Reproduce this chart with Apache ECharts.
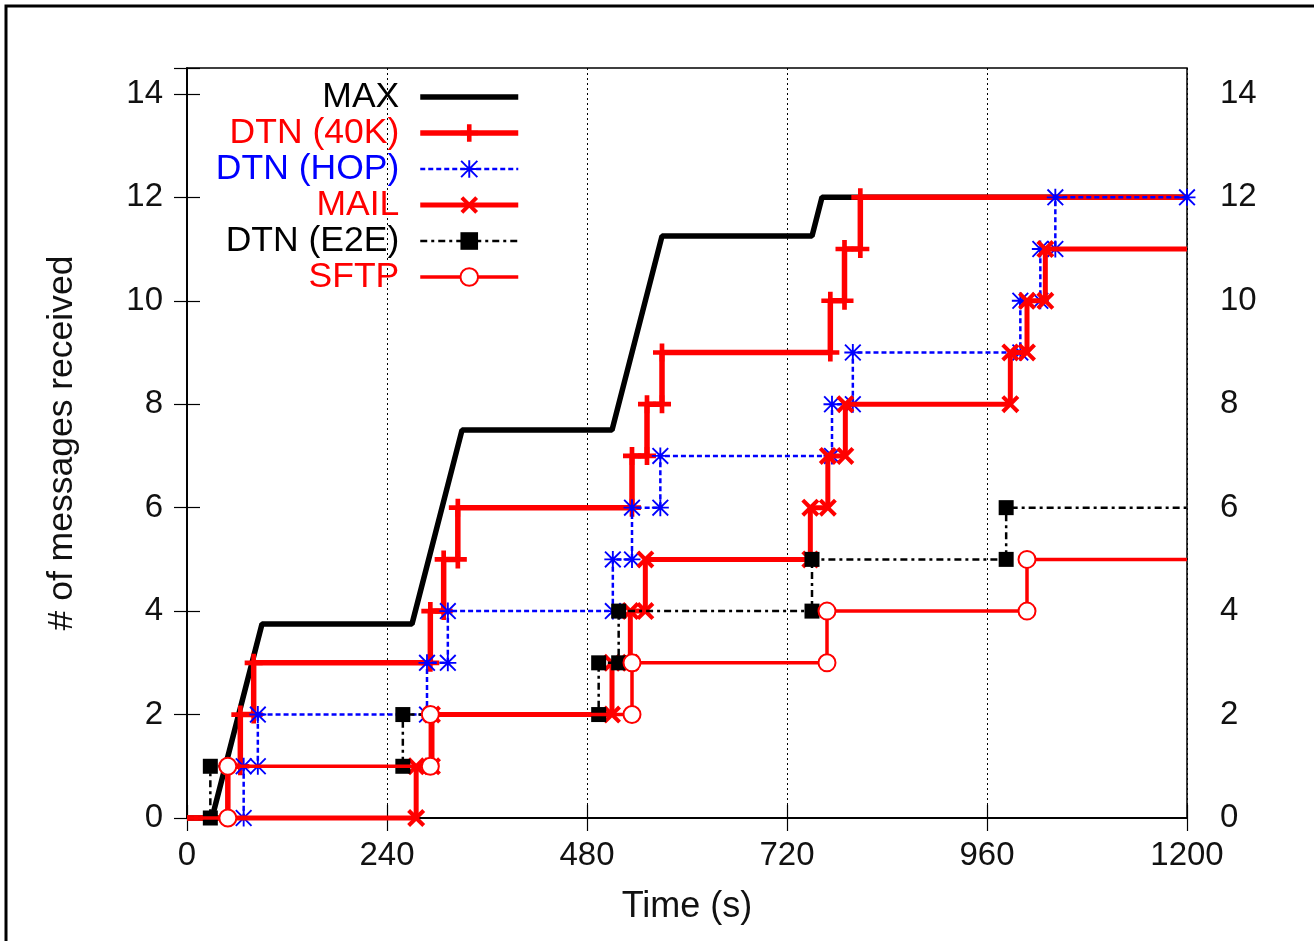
<!DOCTYPE html>
<html>
<head>
<meta charset="utf-8">
<script src="https://cdn.jsdelivr.net/npm/echarts@6/dist/echarts.min.js"></script>
<style>
  html, body { margin: 0; padding: 0; background: #fff; }
  #chart { width: 1314px; height: 941px; }
</style>
</head>
<body>
<div id="chart"></div>
<script>
// Axis ticks
const timeTicks = [0, 240, 480, 720, 960, 1200];
const countTicks = [0, 2, 4, 6, 8, 10, 12, 14];
const countTop = 14.5;

// Upper bound: every message delivered the moment it is generated
const maxTimes  = [0, 30, 90, 270, 330, 510, 570, 750, 762, 1200];
const maxCounts = [0, 0, 3.75, 3.75, 7.5, 7.5, 11.25, 11.25, 12, 12];

// Arrival time (s) of each delivered message, one list per transport
const dtn40kArrivals = [49, 64, 80, 292, 308, 325, 534, 552, 570, 772, 789, 808];
const dtnHopArrivals = [68, 85, 288, 313, 511, 534, 568, 774, 799, 1000, 1024, 1042];
const mailArrivals   = [275, 294, 510, 532, 550, 748, 769, 790, 988, 1008, 1030];
const dtnE2eArrivals = [28, 259, 494, 518, 750, 983];
const sftpArrivals   = [49, 292, 534, 768, 1008];

const FONT = "'Liberation Sans', Arial, sans-serif";
const RED = '#ff0000';
const BLUE = '#0000ff';
const BLACK = '#000000';

// gnuplot-like point shapes
const PLUS = 'path://M3.7,0H6.3V3.7H10V6.3H6.3V10H3.7V6.3H0V3.7H3.7Z';
const CROSS = 'path://M1.6,0L5,3.4L8.4,0L10,1.6L6.6,5L10,8.4L8.4,10L5,6.6L1.6,10L0,8.4L3.4,5L0,1.6Z';
const STAR = 'path://M0,4.45H10V5.55H0Z M4.45,0H5.55V10H4.45Z ' +
  'M0.78,0L5,4.22L9.22,0L10,0.78L5.78,5L10,9.22L9.22,10L5,5.78L0.78,10L0,9.22L4.22,5L0,0.78Z';

// Cumulative count as a staircase: each arrival adds a riser with a point at both ends
function staircase(arrivals, markEnd) {
  const end = timeTicks[timeTicks.length - 1];
  const pts = [{ value: [0, 0], symbol: 'none' }];
  arrivals.forEach(function (t, i) {
    pts.push([t, i]);
    pts.push([t, i + 1]);
  });
  const last = { value: [end, arrivals.length] };
  if (!markEnd) last.symbol = 'none';
  pts.push(last);
  return pts;
}

const maxData = maxTimes.map(function (t, i) { return [t, maxCounts[i]]; });

const chart = echarts.init(document.getElementById('chart'), null, { renderer: 'canvas' });

const axisText = { fontFamily: FONT, fontSize: 33, color: '#111' };
const hideOffTicks = function (v) { return countTicks.indexOf(v) >= 0 ? String(v) : ''; };
const plainNumber = function (v) { return String(v); };

chart.setOption({
  animation: false,
  backgroundColor: '#ffffff',
  graphic: [{
    type: 'rect',
    shape: { x: 6, y: 6, width: 1400, height: 1000 },
    style: { fill: 'none', stroke: '#000', lineWidth: 3 },
    silent: true,
    z: 100
  }],
  grid: {
    left: 187, right: 127, top: 68, bottom: 123,
    show: true, borderColor: '#000', borderWidth: 1.5, backgroundColor: 'transparent'
  },
  legend: {
    orient: 'vertical',
    align: 'right',
    right: 793,
    top: 79,
    padding: 0,
    itemGap: 0,
    itemWidth: 98,
    itemHeight: 22,
    selectedMode: false,
    textStyle: { fontFamily: FONT, fontSize: 35.5, lineHeight: 36, padding: [0, 16, 0, 0] },
    data: [
      { name: 'MAX', textStyle: { color: BLACK }, itemStyle: { opacity: 0 }, lineStyle: { width: 5.5, color: BLACK } },
      { name: 'DTN (40K)', textStyle: { color: RED }, lineStyle: { width: 5.5, color: RED } },
      { name: 'DTN (HOP)', textStyle: { color: BLUE }, lineStyle: { width: 2.5, color: BLUE, type: [5, 3] } },
      { name: 'MAIL', textStyle: { color: RED }, lineStyle: { width: 5, color: RED } },
      { name: 'DTN (E2E)', textStyle: { color: BLACK }, lineStyle: { width: 2.5, color: BLACK, type: [7, 4, 3, 4] } },
      { name: 'SFTP', textStyle: { color: RED }, lineStyle: { width: 3.5, color: RED } }
    ]
  },
  xAxis: [{
    type: 'value',
    position: 'bottom',
    min: timeTicks[0],
    max: timeTicks[timeTicks.length - 1],
    interval: timeTicks[1] - timeTicks[0],
    name: 'Time (s)',
    nameLocation: 'middle',
    nameGap: 71,
    nameTextStyle: { fontFamily: FONT, fontSize: 36, color: '#111' },
    axisLine: { show: true, lineStyle: { color: '#000', width: 1.5 } },
    axisTick: { show: true, inside: true, length: 13, lineStyle: { color: '#000', width: 1.2 } },
    axisLabel: Object.assign({ margin: 21, formatter: plainNumber }, axisText),
    splitLine: { show: true, lineStyle: { color: '#000', width: 1, type: [2, 3] } }
  }, {
    type: 'value',
    position: 'top',
    min: timeTicks[0],
    max: timeTicks[timeTicks.length - 1],
    interval: timeTicks[1] - timeTicks[0],
    axisLine: { show: true, lineStyle: { color: '#000', width: 1.5 } },
    axisTick: { show: true, inside: true, length: 13, lineStyle: { color: '#000', width: 1.2 } },
    axisLabel: { show: false },
    splitLine: { show: false }
  }],
  yAxis: [{
    type: 'value',
    position: 'left',
    min: 0,
    max: countTop,
    interval: countTicks[1] - countTicks[0],
    name: '# of messages received',
    nameLocation: 'middle',
    nameRotate: 90,
    nameGap: 107,
    nameTextStyle: { fontFamily: FONT, fontSize: 35.5, color: '#111' },
    axisLine: { show: true, lineStyle: { color: '#000', width: 1.5 } },
    axisTick: { show: true, inside: true, length: 13, lineStyle: { color: '#000', width: 1.2 } },
    axisLabel: Object.assign({ margin: 24, formatter: hideOffTicks }, axisText),
    splitLine: { show: false }
  }, {
    type: 'value',
    position: 'right',
    min: 0,
    max: countTop,
    interval: countTicks[1] - countTicks[0],
    axisLine: { show: true, lineStyle: { color: '#000', width: 1.5 } },
    axisTick: { show: true, inside: true, length: 13, lineStyle: { color: '#000', width: 1.2 } },
    axisLabel: Object.assign({ margin: 33, formatter: hideOffTicks }, axisText),
    splitLine: { show: false }
  }],
  series: [{
    name: 'MAX',
    type: 'line',
    data: maxData,
    symbol: 'none',
    clip: false,
    lineStyle: { color: BLACK, width: 5.5 },
    itemStyle: { color: BLACK },
    z: 2
  }, {
    name: 'DTN (40K)',
    type: 'line',
    data: staircase(dtn40kArrivals, false),
    symbol: PLUS,
    symbolSize: 18,
    showAllSymbol: true,
    clip: false,
    lineStyle: { color: RED, width: 5.5 },
    itemStyle: { color: RED, borderWidth: 0 },
    z: 3
  }, {
    name: 'DTN (HOP)',
    type: 'line',
    data: staircase(dtnHopArrivals, true),
    symbol: STAR,
    symbolSize: 17,
    showAllSymbol: true,
    clip: false,
    lineStyle: { color: BLUE, width: 2.5, type: [5, 3] },
    itemStyle: { color: BLUE, borderWidth: 0 },
    z: 4
  }, {
    name: 'MAIL',
    type: 'line',
    data: staircase(mailArrivals, false),
    symbol: CROSS,
    symbolSize: 18,
    showAllSymbol: true,
    clip: false,
    lineStyle: { color: RED, width: 5 },
    itemStyle: { color: RED, borderWidth: 0 },
    z: 5
  }, {
    name: 'DTN (E2E)',
    type: 'line',
    data: staircase(dtnE2eArrivals, false),
    symbol: 'rect',
    symbolSize: 15,
    showAllSymbol: true,
    clip: false,
    lineStyle: { color: BLACK, width: 2.5, type: [7, 4, 3, 4] },
    itemStyle: { color: BLACK, borderWidth: 0 },
    z: 6
  }, {
    name: 'SFTP',
    type: 'line',
    data: staircase(sftpArrivals, false),
    symbol: 'emptyCircle',
    symbolSize: 17,
    showAllSymbol: true,
    clip: false,
    lineStyle: { color: RED, width: 3.5 },
    itemStyle: { color: RED, borderColor: RED, borderWidth: 3.5 },
    z: 7
  }]
});
</script>
</body>
</html>
